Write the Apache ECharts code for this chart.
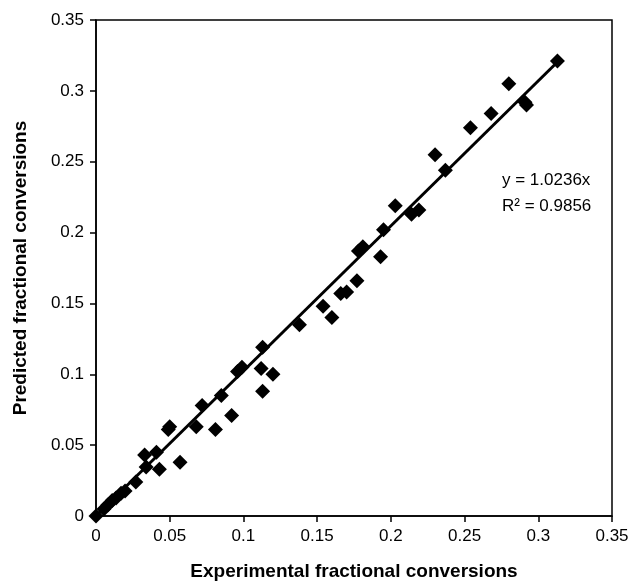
<!DOCTYPE html>
<html>
<head>
<meta charset="utf-8">
<script src="https://cdn.jsdelivr.net/npm/echarts@6/dist/echarts.min.js"></script>
<style>
  html, body { margin: 0; padding: 0; background: #fff; }
  #chart { width: 639px; height: 584px; }
</style>
</head>
<body>
<div id="chart"></div>
<script>
// experimental vs predicted fractional conversions
const experimental = [
  0, 0.0054, 0.008, 0.011, 0.0136, 0.017, 0.0197, 0.027, 0.033, 0.034,
  0.041, 0.043, 0.049, 0.05, 0.057, 0.068, 0.072, 0.081, 0.085, 0.092,
  0.096, 0.099, 0.113, 0.112, 0.113, 0.12, 0.138, 0.154, 0.16, 0.166,
  0.17, 0.177, 0.178, 0.181, 0.193, 0.195, 0.203, 0.214, 0.219, 0.23,
  0.237, 0.254, 0.268, 0.28, 0.291, 0.292, 0.313
]
const predicted = [
  0, 0.0049, 0.0078, 0.011, 0.0127, 0.016, 0.0176, 0.024, 0.043, 0.0346,
  0.045, 0.033, 0.061, 0.063, 0.038, 0.063, 0.078, 0.061, 0.085, 0.071,
  0.102, 0.105, 0.119, 0.104, 0.088, 0.1, 0.135, 0.148, 0.14, 0.157,
  0.158, 0.166, 0.187, 0.19, 0.183, 0.202, 0.219, 0.213, 0.216, 0.255,
  0.244, 0.274, 0.284, 0.305, 0.292, 0.29, 0.321
]
const slope = 1.0236
const fitRange = [0, 0.313]
const tickLabels = ['0', '0.05', '0.1', '0.15', '0.2', '0.25', '0.3', '0.35']

const points = experimental.map((x, i) => [x, predicted[i]])
const fitLine = fitRange.map(x => [x, slope * x])

const chart = echarts.init(document.getElementById('chart'))

const axisCommon = {
  type: 'value',
  min: 0,
  max: 0.35,
  interval: 0.05,
  nameLocation: 'middle',
  nameTextStyle: { color: '#000', fontSize: 19, fontWeight: 'bold', fontFamily: 'Liberation Sans' },
  axisLine: { show: true, onZero: false, lineStyle: { color: '#000', width: 1.5 } },
  axisTick: { show: true, inside: false, length: 6, lineStyle: { color: '#000', width: 1.5 } },
  axisLabel: {
    color: '#000', fontSize: 17, fontFamily: 'Liberation Sans',
    formatter: (v) => tickLabels[Math.round(v / 0.05)]
  },
  splitLine: { show: false }
}

chart.setOption({
  backgroundColor: '#fff',
  animation: false,
  grid: {
    left: 96, right: 27, top: 20, bottom: 68,
    outerBoundsMode: 'none',
    containLabel: false,
    show: true, borderColor: '#000', borderWidth: 1.5, backgroundColor: 'transparent'
  },
  xAxis: Object.assign({}, axisCommon, {
    name: 'Experimental fractional conversions',
    nameGap: 46,
    axisLabel: Object.assign({}, axisCommon.axisLabel, { margin: 12 })
  }),
  yAxis: Object.assign({}, axisCommon, {
    name: 'Predicted fractional conversions',
    nameGap: 66,
    axisLabel: Object.assign({}, axisCommon.axisLabel, { margin: 12 })
  }),
  graphic: [
    {
      type: 'text', left: 502, top: 172,
      style: { text: 'y = 1.0236x', fill: '#000', font: '17px "Liberation Sans"' }
    },
    {
      type: 'text', left: 502, top: 198,
      style: { text: 'R² = 0.9856', fill: '#000', font: '17px "Liberation Sans"' }
    }
  ],
  series: [
    {
      type: 'line',
      data: fitLine,
      symbol: 'none',
      lineStyle: { color: '#000', width: 3 },
      z: 3
    },
    {
      type: 'scatter',
      data: points,
      symbol: 'diamond',
      symbolSize: 15,
      itemStyle: { color: '#000', opacity: 1 },
      z: 4
    }
  ]
})
</script>
</body>
</html>
